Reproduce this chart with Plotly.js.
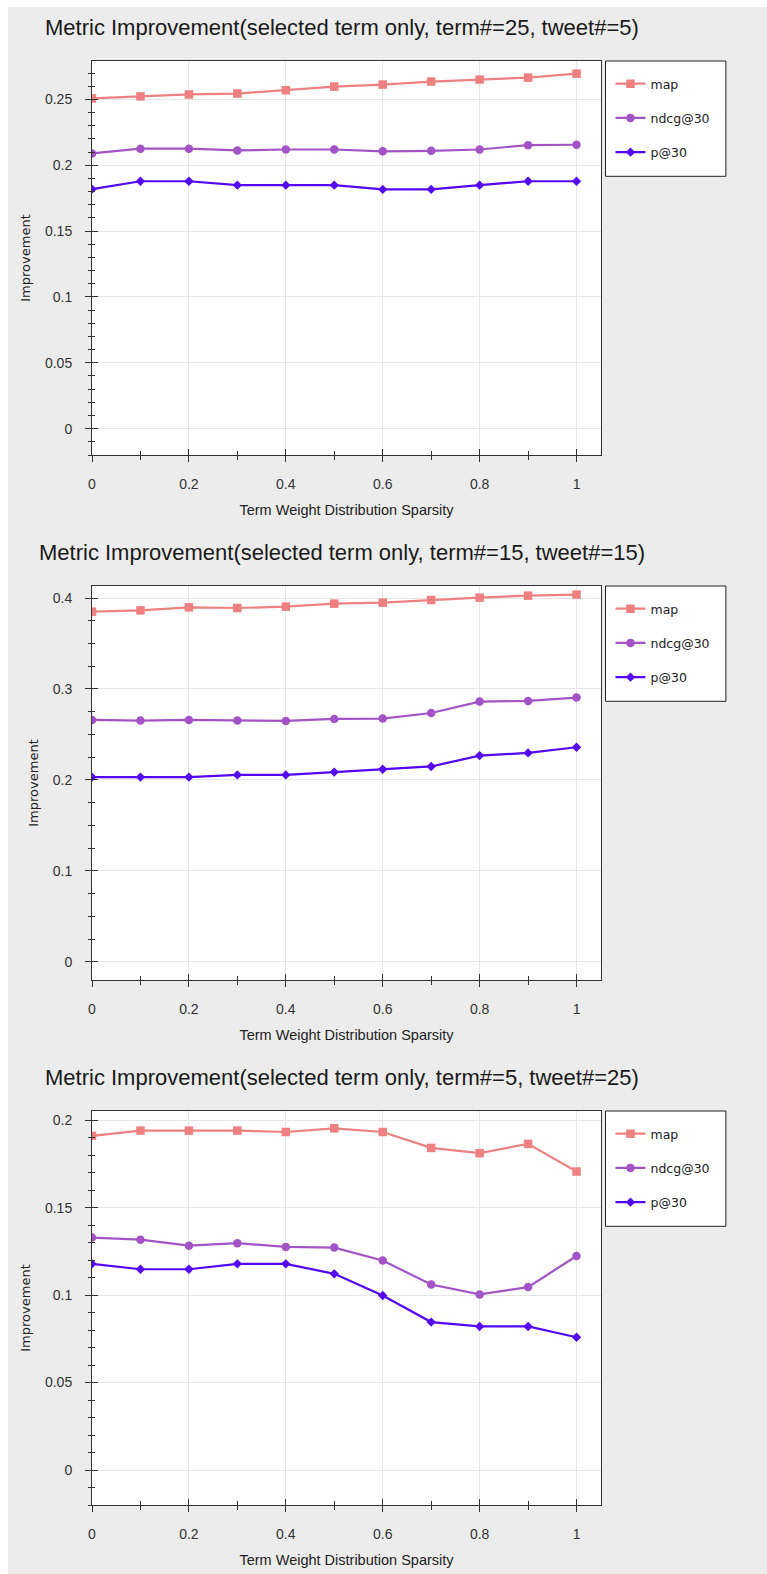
<!DOCTYPE html>
<html>
<head>
<meta charset="utf-8">
<script src="https://cdn.plot.ly/plotly-3.0.1.min.js"></script>
<style>
  html, body { margin: 0; padding: 0; background: #ffffff; width: 767px; height: 1574px; overflow: hidden; }
  #bg { position: absolute; left: 8px; top: 7px; width: 759px; height: 1567px; background: #ececec; }
  .chart { position: absolute; left: 0; width: 767px; height: 524px; }
</style>
</head>
<body>
<div id="bg"></div>
<div id="c1" class="chart" style="top:0px"></div>
<div id="c2" class="chart" style="top:525px"></div>
<div id="c3" class="chart" style="top:1050px"></div>
<script>
// ---- data ----
const sparsity = [0, 0.1, 0.2, 0.3, 0.4, 0.5, 0.6, 0.7, 0.8, 0.9, 1.0];
const seriesNames = ['map', 'ndcg@30', 'p@30'];

const titles = [
  'Metric Improvement(selected term only, term#=25, tweet#=5)',
  'Metric Improvement(selected term only, term#=15, tweet#=15)',
  'Metric Improvement(selected term only, term#=5, tweet#=25)'
];

// chart 1: term#=25, tweet#=5
const map_25_5  = [0.2508, 0.2523, 0.2538, 0.2545, 0.2570, 0.2598, 0.2613, 0.2636, 0.2651, 0.2666, 0.2696];
const ndcg_25_5 = [0.2090, 0.2126, 0.2126, 0.2113, 0.2120, 0.2120, 0.2106, 0.2110, 0.2120, 0.2153, 0.2156];
const p_25_5    = [0.1819, 0.1879, 0.1879, 0.1849, 0.1849, 0.1849, 0.1817, 0.1817, 0.1849, 0.1879, 0.1879];

// chart 2: term#=15, tweet#=15
const map_15_15  = [0.3850, 0.3864, 0.3897, 0.3890, 0.3905, 0.3938, 0.3949, 0.3978, 0.4004, 0.4026, 0.4037];
const ndcg_15_15 = [0.2659, 0.2652, 0.2659, 0.2652, 0.2648, 0.2670, 0.2674, 0.2736, 0.2861, 0.2868, 0.2905];
const p_15_15    = [0.2031, 0.2031, 0.2031, 0.2055, 0.2055, 0.2086, 0.2117, 0.2148, 0.2267, 0.2297, 0.2359];

// chart 3: term#=5, tweet#=25
const map_5_25  = [0.1911, 0.1941, 0.1941, 0.1941, 0.1933, 0.1954, 0.1933, 0.1842, 0.1812, 0.1865, 0.1707];
const ndcg_5_25 = [0.1329, 0.1317, 0.1283, 0.1297, 0.1276, 0.1272, 0.1198, 0.1061, 0.1004, 0.1046, 0.1224];
const p_5_25    = [0.1179, 0.1148, 0.1148, 0.1179, 0.1179, 0.1122, 0.0998, 0.0846, 0.0821, 0.0821, 0.0759];

const xRange = [0, 1.0505];
const yRanges = [[-0.02, 0.2792], [-0.02, 0.4132], [-0.02, 0.2053]];
const yDticks = [0.05, 0.1, 0.05];
const yMinorDticks = [0.01, 0.025, 0.01];
const titleLeft = [45, 39, 45];

// ---- styling ----
const colors = ['#ee8080', '#a353c6', '#5506f2'];
const symbols = ['square', 'circle', 'diamond'];
const msizes = [8.5, 8.5, 7.2];
const axisColor = '#333333';
const gridColor = '#e6e6e6';
const tickFont = { family: 'Liberation Sans, Arial, sans-serif', size: 14, color: '#333333' };

function makeChart(divId, idx, seriesData) {
  const traces = seriesData.map((vals, i) => ({
    type: 'scatter',
    mode: 'lines+markers',
    x: sparsity,
    y: vals,
    name: seriesNames[i],
    legendgroup: 'g' + i,
    line: { color: colors[i], width: 2.2 },
    marker: { color: colors[i], symbol: symbols[i], size: msizes[i] },
    hoverinfo: 'x+y+name'
  }));
  // empty helper trace so the overlay axes (inner half of the crossing ticks) are drawn
  traces.push({ type: 'scatter', x: [], y: [], xaxis: 'x2', yaxis: 'y2', showlegend: false, hoverinfo: 'skip' });

  const plotH = 394, mt = 61, mb = 69, ml = 92, mr = 165.5;
  const plotW = 767 - ml - mr;

  const common = {
    zeroline: false,
    tickcolor: axisColor,
    tickwidth: 1,
    ticklen: 6
  };

  const layout = {
    width: 767,
    height: 524,
    margin: { l: ml, r: mr, t: mt, b: mb, pad: 0 },
    paper_bgcolor: 'rgba(0,0,0,0)',
    plot_bgcolor: '#ffffff',
    showlegend: true,
    title: {
      text: titles[idx],
      x: titleLeft[idx] / 767,
      xref: 'container',
      xanchor: 'left',
      y: 1 - 27 / 524,
      yref: 'container',
      yanchor: 'middle',
      font: { family: 'Liberation Sans, Arial, sans-serif', size: 22, color: '#1a1a1a' }
    },
    xaxis: Object.assign({}, common, {
      range: xRange,
      tick0: 0,
      dtick: 0.2,
      ticks: 'outside',
      minor: { dtick: 0.1, tick0: 0, ticks: 'outside', ticklen: 4, tickcolor: axisColor, showgrid: false },
      showgrid: true,
      gridcolor: gridColor,
      gridwidth: 1,
      showline: true,
      linecolor: axisColor,
      linewidth: 1,
      mirror: true,
      tickfont: tickFont,
      ticklabelstandoff: 10,
      title: {
        text: 'Term Weight Distribution Sparsity',
        font: { family: 'Liberation Sans, Arial, sans-serif', size: 14.5, color: '#222222' },
        standoff: 14
      }
    }),
    xaxis2: Object.assign({}, common, {
      overlaying: 'x',
      anchor: 'y2',
      side: 'bottom',
      range: xRange,
      tick0: 0,
      dtick: 0.2,
      ticks: 'inside',
      minor: { dtick: 0.1, tick0: 0, ticks: 'inside', ticklen: 4, tickcolor: axisColor, showgrid: false },
      showgrid: false,
      showline: false,
      showticklabels: false
    }),
    yaxis: Object.assign({}, common, {
      range: yRanges[idx],
      tick0: 0,
      dtick: yDticks[idx],
      ticks: 'outside',
      minor: { dtick: yMinorDticks[idx], tick0: 0, ticks: 'outside', ticklen: 3, tickcolor: axisColor, showgrid: false },
      showgrid: true,
      gridcolor: gridColor,
      gridwidth: 1,
      showline: true,
      linecolor: axisColor,
      linewidth: 1,
      mirror: true,
      tickfont: tickFont,
      ticklabelstandoff: 10,
      title: {
        text: 'Improvement',
        font: { family: 'DejaVu Sans, sans-serif', size: 13, color: '#222222' },
        standoff: 11
      }
    }),
    yaxis2: Object.assign({}, common, {
      overlaying: 'y',
      anchor: 'x2',
      side: 'left',
      range: yRanges[idx],
      tick0: 0,
      dtick: yDticks[idx],
      ticks: 'inside',
      minor: { dtick: yMinorDticks[idx], tick0: 0, ticks: 'inside', ticklen: 3, tickcolor: axisColor, showgrid: false },
      showgrid: false,
      showline: false,
      showticklabels: false
    }),
    legend: {
      x: (611 - ml) / plotW,
      xanchor: 'left',
      y: 1 - 8 / plotH,
      yanchor: 'top',
      bgcolor: 'rgba(0,0,0,0)',
      borderwidth: 0,
      tracegroupgap: 15,
      itemwidth: 30,
      font: { family: 'DejaVu Sans, sans-serif', size: 12.5, color: '#222222' }
    },
    shapes: [{
      type: 'rect',
      xref: 'paper', yref: 'paper',
      x0: (606 - ml) / plotW, x1: (726.5 - ml) / plotW,
      y0: 1 - (176 - 60.7) / plotH, y1: 1,
      line: { color: '#222222', width: 1 },
      fillcolor: '#ffffff',
      layer: 'below'
    }]
  };

  Plotly.newPlot(divId, traces, layout, { staticPlot: true, displayModeBar: false });
}

makeChart('c1', 0, [map_25_5, ndcg_25_5, p_25_5]);
makeChart('c2', 1, [map_15_15, ndcg_15_15, p_15_15]);
makeChart('c3', 2, [map_5_25, ndcg_5_25, p_5_25]);
</script>
</body>
</html>
